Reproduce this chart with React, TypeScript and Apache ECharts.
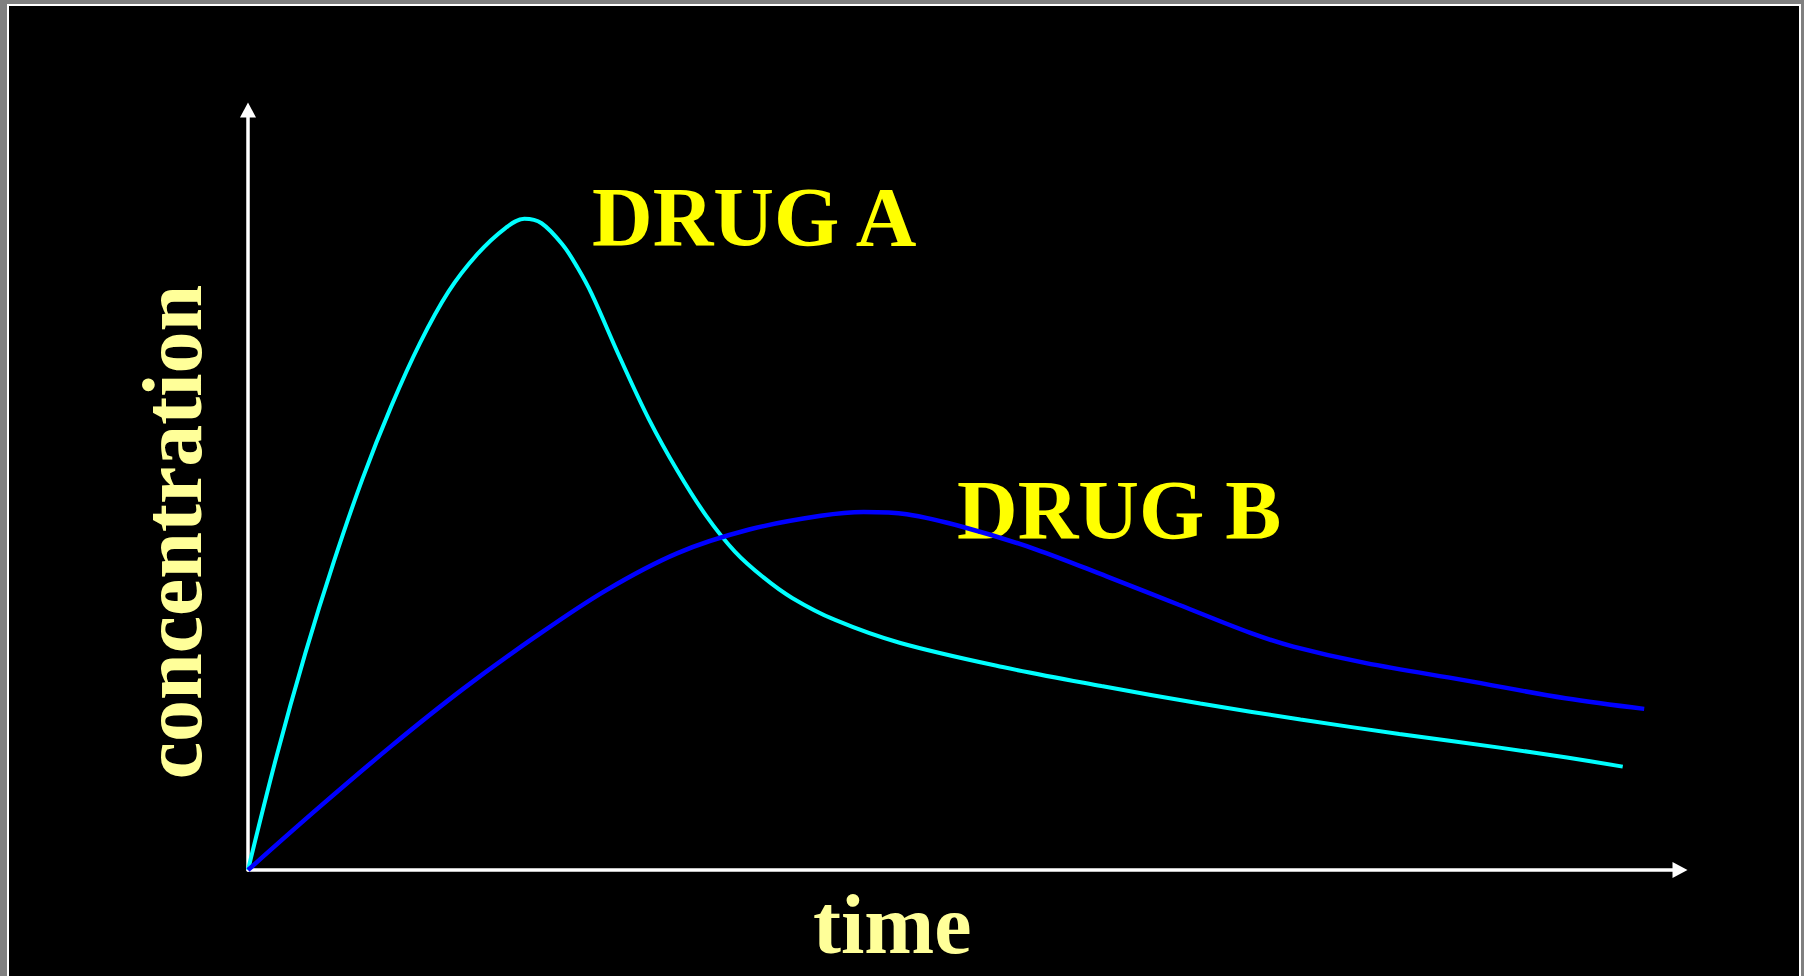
import React, { useEffect, useRef } from "react";
import * as echarts from "echarts";

// time (x) and concentration (y) samples
const drugATime = [0, 2, 4, 6, 8, 10, 12, 14, 16, 18, 19.3, 20.5, 22, 23, 24, 26, 28, 30, 32, 34, 36, 38, 41, 45.5, 52.7, 59.6, 66.5, 73.5, 80.4, 87.4, 92.1, 96.0];
const drugAConc = [0, 15.0, 28.5, 40.6, 51.5, 61.0, 69.3, 76.1, 81.0, 84.5, 85.7, 85.1, 82.2, 79.3, 75.8, 67.3, 59.3, 52.5, 46.6, 41.9, 38.5, 35.8, 32.9, 29.9, 26.7, 24.2, 21.9, 19.8, 17.9, 16.1, 14.8, 13.6];

const drugBTime = [0, 5, 10, 15, 20, 25, 30, 35, 40, 43, 46, 50, 55, 60, 65, 70, 73, 78, 85, 92, 97.5];
const drugBConc = [0, 8.3, 16.3, 23.8, 30.6, 36.8, 41.7, 44.8, 46.6, 47.1, 46.8, 45.1, 42.2, 38.6, 34.9, 31.2, 29.4, 27.25, 24.95, 22.6, 21.2];

const seriesNames = ["DRUG A", "DRUG B"];
const xAxisTitle = "time";
const yAxisTitle = "concentration";

const SERIF = '"Liberation Serif", "Times New Roman", serif';

export default function App() {
  const ref = useRef<HTMLDivElement>(null);

  useEffect(() => {
    if (!ref.current) return;
    const chart = echarts.init(ref.current, undefined, { renderer: "svg" });
    const pairs = (xs: number[], ys: number[]) => xs.map((x, i) => [x, ys[i]]);

    const axisLine = {
      show: true,
      symbol: ["none", "triangle"],
      symbolSize: [16, 15],
      lineStyle: { color: "#ffffff", width: 3.5 },
    };

    chart.setOption({
      animation: false,
      backgroundColor: "#808080",
      grid: { left: 248, right: 124, top: 110, bottom: 106, containLabel: false },
      xAxis: {
        type: "value",
        min: 0,
        max: 100,
        axisLine,
        axisTick: { show: false },
        axisLabel: { show: false },
        splitLine: { show: false },
      },
      yAxis: {
        type: "value",
        min: 0,
        max: 100,
        axisLine,
        axisTick: { show: false },
        axisLabel: { show: false },
        splitLine: { show: false },
      },
      graphic: [
        { type: "rect", z: -100, shape: { x: 7, y: 4, width: 1794, height: 980 }, style: { fill: "#ffffff" } },
        { type: "rect", z: -99, shape: { x: 9, y: 6, width: 1790, height: 980 }, style: { fill: "#000000" } },
        {
          type: "text", z: 1, x: 592, y: 217,
          style: { text: seriesNames[0], fill: "#ffff00", font: `bold 84px ${SERIF}`, textAlign: "left", textVerticalAlign: "middle" },
        },
        {
          type: "text", z: 1, x: 957, y: 510,
          style: { text: seriesNames[1], fill: "#ffff00", font: `bold 84px ${SERIF}`, textAlign: "left", textVerticalAlign: "middle" },
        },
        {
          type: "text", z: 1, x: 813, y: 924,
          style: { text: xAxisTitle, fill: "#ffff99", font: `bold 84px ${SERIF}`, textAlign: "left", textVerticalAlign: "middle" },
        },
        {
          type: "text", z: 1, x: 172, y: 532, rotation: Math.PI / 2,
          style: { text: yAxisTitle, fill: "#ffff99", font: `bold 84px ${SERIF}`, textAlign: "center", textVerticalAlign: "middle" },
        },
      ],
      series: [
        {
          name: seriesNames[0],
          type: "line",
          data: pairs(drugATime, drugAConc),
          smooth: 0.35,
          showSymbol: false,
          lineStyle: { color: "#00ffff", width: 4 },
          z: 2,
        },
        {
          name: seriesNames[1],
          type: "line",
          data: pairs(drugBTime, drugBConc),
          smooth: 0.35,
          showSymbol: false,
          lineStyle: { color: "#0000ff", width: 4.5 },
          z: 3,
        },
      ],
    });
    return () => chart.dispose();
  }, []);

  return (
    <div
      ref={ref}
      style={{ position: "absolute", left: 0, top: 0, width: 1804, height: 976 }}
    />
  );
}
